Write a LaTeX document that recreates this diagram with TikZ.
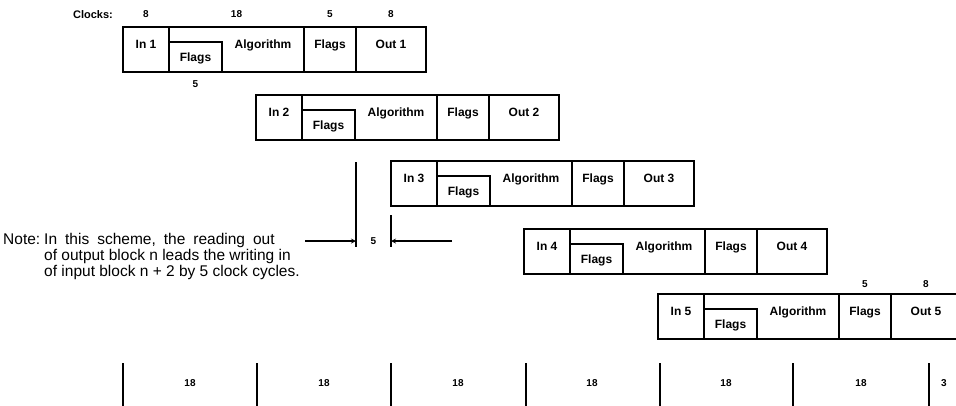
\documentclass[tikz,border=0pt]{standalone}
\usepackage{fontspec}
\setmainfont{Liberation Sans}
\usetikzlibrary{positioning,calc,arrows}

\begin{document}
\begin{tikzpicture}[
    x=1pt, y=-1pt,
    cella/.style={
        rectangle,
        draw,
        line width=1.4pt,
        minimum height=45pt,
        inner sep=0pt,
        outer sep=0pt,
        text height=9pt,
        text depth=11.5pt,
        font=\bfseries\fontsize{12}{14}\selectfont
    },
    ingresso/.style={
        cella,
        minimum width=46pt,
        anchor=north west
    },
    flagsin/.style={
        cella,
        minimum width=53pt,
        minimum height=30pt,
        text height=8.6pt,
        text depth=0pt,
        anchor=south west
    },
    algo/.style={
        cella,
        draw=none,
        minimum width=82pt,
        anchor=south west
    },
    flagsout/.style={
        cella,
        minimum width=52pt
    },
    uscita/.style={
        cella,
        minimum width=70pt
    },
    cornice/.style={
        line width=2.4pt
    },
    numero/.style={
        inner sep=0pt,
        font=\bfseries\fontsize{10}{12}\selectfont
    },
    quota/.style={
        line width=1.2pt
    },
    tacca/.style={
        line width=1.6pt
    },
    arrow/.style={
        ->,
        >=stealth,
        line width=1.2pt
    },
    nota/.style={
        inner sep=0pt,
        font=\fontsize{15.5}{16}\selectfont
    }
]

\useasboundingbox (0,0) rectangle (956,405);

% Blocco 1
\node[ingresso] (in1) at (123,27) {In 1};
\node[flagsin] (fa1) at (in1.south east) {Flags};
\node[algo] (alg1) at (fa1.south east) {Algorithm};
\node[flagsout, right=0pt of alg1] (fb1) {Flags};
\node[uscita, right=0pt of fb1] (out1) {Out 1};
\draw[cornice] (in1.north west) rectangle (out1.south east);

% Blocco 2
\node[ingresso] (in2) at (256,95) {In 2};
\node[flagsin] (fa2) at (in2.south east) {Flags};
\node[algo] (alg2) at (fa2.south east) {Algorithm};
\node[flagsout, right=0pt of alg2] (fb2) {Flags};
\node[uscita, right=0pt of fb2] (out2) {Out 2};
\draw[cornice] (in2.north west) rectangle (out2.south east);

% Blocco 3
\node[ingresso] (in3) at (391,161) {In 3};
\node[flagsin] (fa3) at (in3.south east) {Flags};
\node[algo] (alg3) at (fa3.south east) {Algorithm};
\node[flagsout, right=0pt of alg3] (fb3) {Flags};
\node[uscita, right=0pt of fb3] (out3) {Out 3};
\draw[cornice] (in3.north west) rectangle (out3.south east);

% Blocco 4
\node[ingresso] (in4) at (524,229) {In 4};
\node[flagsin] (fa4) at (in4.south east) {Flags};
\node[algo] (alg4) at (fa4.south east) {Algorithm};
\node[flagsout, right=0pt of alg4] (fb4) {Flags};
\node[uscita, right=0pt of fb4] (out4) {Out 4};
\draw[cornice] (in4.north west) rectangle (out4.south east);

% Blocco 5
\node[ingresso] (in5) at (658,294) {In 5};
\node[flagsin] (fa5) at (in5.south east) {Flags};
\node[algo] (alg5) at (fa5.south east) {Algorithm};
\node[flagsout, right=0pt of alg5] (fb5) {Flags};
\node[uscita, right=0pt of fb5] (out5) {Out 5};
\draw[cornice] (in5.north west) rectangle (out5.south east);

% Cicli di clock
\node[numero, above=9pt of in1] (c1) {8};
\node[numero, above=9pt] (c2) at ($(in1.north east)!.5!(fb1.north west)$) {18};
\node[numero, above=9pt of fb1] (c3) {5};
\node[numero, above=9pt of out1] (c4) {8};
\node[numero, left=30pt of c1, font=\bfseries\fontsize{11}{13}\selectfont] (clocks) {Clocks:};
\node[numero, below=8pt of fa1] (c5) {5};
\node[numero, above=6pt of fb5] (c6) {5};
\node[numero, above=6pt of out5] (c7) {8};

% Quota tra uscita 1 e ingresso 3
\coordinate (h1) at (0,162);
\coordinate (h2) at (0,247);
\coordinate (a1) at (305,241);
\coordinate (a2) at (452,241);
\draw[quota] (out1.west |- h1) -- (out1.west |- h2);
\draw[quota] ([yshift=-9pt]in3.south west) -- (in3.west |- h2);
\draw[arrow] (a1) -- (out1.west |- a1);
\draw[arrow] (a2) -- (in3.west |- a2);
\node[numero] (c8) at ($(out1.west |- a1)!.5!(in3.west |- a1)$) {5};

% Nota
\node[nota, anchor=north west] (nota) at (3,233) {%
    \begin{tabular}{@{}l@{\hspace{4pt}}l@{}}
    Note: & {\spaceskip=8pt In this scheme, the reading out}\\
          & of output block n leads the writing in\\
          & of input block n + 2 by 5 clock cycles.
    \end{tabular}};

% Scala dei tempi
\draw[tacca] (123,363) -- (123,406) (257,363) -- (257,406)
    (391,363) -- (391,406) (526,363) -- (526,406)
    (660,363) -- (660,406) (793,363) -- (793,406)
    (929,363) -- (929,406);
\node[numero] (t1) at (190,383) {18};
\node[numero] (t2) at (324,383) {18};
\node[numero] (t3) at (458,383) {18};
\node[numero] (t4) at (592,383) {18};
\node[numero] (t5) at (726,383) {18};
\node[numero] (t6) at (861,383) {18};
\node[numero] (t7) at (944,383) {3};

\end{tikzpicture}
\end{document}
